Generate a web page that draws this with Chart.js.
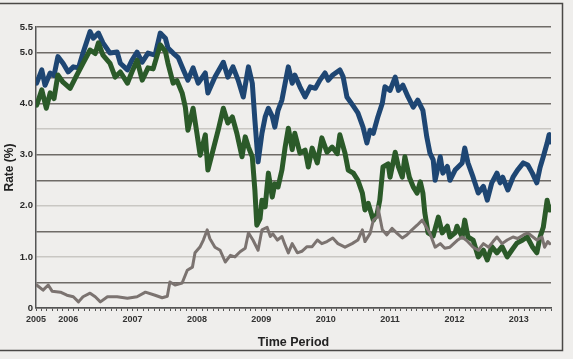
<!DOCTYPE html>
<html>
<head>
<meta charset="utf-8">
<script src="https://cdn.jsdelivr.net/npm/chart.js@4.4.0/dist/chart.umd.min.js"></script>
<style>
  html, body { margin: 0; padding: 0; background: #efeeec; }
  canvas { display: block; }
</style>
</head>
<body>
<canvas id="rates" width="573" height="359"></canvas>
<script>
// Data (x in decimal years, y in %)
const blueDates = [2005.51, 2005.59, 2005.64, 2005.72, 2005.78, 2005.84, 2005.92, 2006.00, 2006.08, 2006.16, 2006.23, 2006.34, 2006.39, 2006.47, 2006.54, 2006.65, 2006.76, 2006.81, 2006.92, 2006.99, 2007.07, 2007.15, 2007.24, 2007.35, 2007.43, 2007.51, 2007.55, 2007.63, 2007.71, 2007.79, 2007.86, 2007.94, 2008.02, 2008.13, 2008.17, 2008.28, 2008.41, 2008.48, 2008.56, 2008.64, 2008.72, 2008.80, 2008.86, 2008.90, 2008.95, 2009.01, 2009.06, 2009.11, 2009.17, 2009.21, 2009.26, 2009.32, 2009.37, 2009.42, 2009.48, 2009.52, 2009.60, 2009.68, 2009.76, 2009.84, 2009.91, 2009.99, 2010.04, 2010.11, 2010.22, 2010.27, 2010.33, 2010.43, 2010.50, 2010.58, 2010.64, 2010.69, 2010.74, 2010.81, 2010.88, 2010.92, 2011.00, 2011.08, 2011.13, 2011.20, 2011.28, 2011.36, 2011.43, 2011.51, 2011.57, 2011.62, 2011.67, 2011.70, 2011.78, 2011.82, 2011.89, 2011.93, 2012.01, 2012.12, 2012.16, 2012.21, 2012.29, 2012.37, 2012.45, 2012.51, 2012.58, 2012.66, 2012.71, 2012.75, 2012.83, 2012.91, 2012.98, 2013.07, 2013.14, 2013.21, 2013.28, 2013.33, 2013.38, 2013.44, 2013.47, 2013.48];
const blueRates = [4.40, 4.66, 4.36, 4.60, 4.55, 4.92, 4.79, 4.62, 4.72, 4.70, 4.99, 5.41, 5.28, 5.38, 5.19, 4.99, 5.01, 4.79, 4.66, 4.85, 5.01, 4.81, 4.99, 4.95, 5.38, 5.28, 5.09, 4.99, 4.90, 4.66, 4.46, 4.70, 4.40, 4.60, 4.21, 4.52, 4.81, 4.52, 4.72, 4.46, 4.13, 4.72, 4.40, 3.68, 2.86, 3.42, 3.74, 3.91, 3.75, 3.54, 3.87, 4.07, 4.40, 4.72, 4.40, 4.56, 4.33, 4.13, 4.33, 4.30, 4.46, 4.60, 4.46, 4.56, 4.66, 4.53, 4.13, 3.95, 3.82, 3.54, 3.23, 3.48, 3.42, 3.74, 4.01, 4.33, 4.26, 4.52, 4.26, 4.36, 4.13, 3.93, 4.07, 3.87, 3.35, 3.03, 2.90, 2.50, 2.96, 2.64, 2.77, 2.50, 2.70, 2.84, 3.13, 2.84, 2.56, 2.25, 2.38, 2.11, 2.45, 2.64, 2.45, 2.56, 2.31, 2.56, 2.70, 2.84, 2.80, 2.64, 2.45, 2.75, 2.96, 3.23, 3.39, 3.25];

const greenDates = [2005.51, 2005.59, 2005.66, 2005.72, 2005.78, 2005.84, 2005.92, 2006.03, 2006.11, 2006.23, 2006.34, 2006.42, 2006.47, 2006.54, 2006.65, 2006.73, 2006.81, 2006.92, 2006.99, 2007.07, 2007.15, 2007.24, 2007.32, 2007.43, 2007.51, 2007.55, 2007.63, 2007.69, 2007.77, 2007.82, 2007.86, 2007.94, 2008.00, 2008.05, 2008.13, 2008.17, 2008.25, 2008.33, 2008.41, 2008.48, 2008.55, 2008.62, 2008.70, 2008.75, 2008.80, 2008.86, 2008.90, 2008.93, 2008.98, 2009.01, 2009.06, 2009.11, 2009.17, 2009.21, 2009.26, 2009.32, 2009.37, 2009.42, 2009.48, 2009.52, 2009.60, 2009.68, 2009.73, 2009.79, 2009.87, 2009.94, 2010.02, 2010.10, 2010.18, 2010.22, 2010.30, 2010.35, 2010.43, 2010.50, 2010.57, 2010.61, 2010.66, 2010.74, 2010.80, 2010.84, 2010.89, 2010.97, 2011.00, 2011.08, 2011.13, 2011.19, 2011.23, 2011.30, 2011.36, 2011.42, 2011.47, 2011.51, 2011.54, 2011.59, 2011.67, 2011.75, 2011.81, 2011.89, 2011.93, 2012.01, 2012.04, 2012.12, 2012.16, 2012.21, 2012.29, 2012.37, 2012.45, 2012.51, 2012.58, 2012.66, 2012.74, 2012.82, 2012.89, 2012.97, 2013.06, 2013.13, 2013.21, 2013.28, 2013.33, 2013.38, 2013.44, 2013.47, 2013.48];
const greenRates = [3.97, 4.27, 3.91, 4.21, 4.10, 4.56, 4.42, 4.30, 4.50, 4.79, 5.05, 4.98, 5.19, 4.95, 4.79, 4.52, 4.62, 4.40, 4.62, 4.85, 4.46, 4.70, 4.68, 5.15, 5.02, 4.79, 4.40, 4.45, 4.21, 3.93, 3.48, 3.91, 3.42, 2.99, 3.39, 2.70, 3.09, 3.48, 3.91, 3.62, 3.74, 3.42, 2.96, 3.35, 3.15, 2.96, 2.31, 1.62, 1.75, 2.11, 1.98, 2.64, 2.17, 2.43, 2.37, 2.70, 3.15, 3.52, 3.10, 3.42, 3.03, 3.09, 2.76, 3.13, 2.84, 3.33, 3.05, 3.15, 3.02, 3.39, 3.03, 2.70, 2.64, 2.50, 2.25, 1.92, 2.05, 1.72, 1.85, 2.11, 2.76, 2.82, 2.56, 3.05, 2.76, 2.56, 2.96, 2.56, 2.37, 2.25, 2.47, 2.25, 1.86, 1.47, 1.41, 1.78, 1.47, 1.60, 1.39, 1.47, 1.60, 1.39, 1.72, 1.39, 1.33, 1.00, 1.13, 0.94, 1.20, 1.08, 1.20, 1.00, 1.13, 1.27, 1.33, 1.39, 1.20, 1.08, 1.39, 1.58, 2.11, 1.92, 1.98];

const greyDates = [2005.51, 2005.61, 2005.69, 2005.75, 2005.88, 2005.98, 2006.08, 2006.16, 2006.23, 2006.34, 2006.42, 2006.50, 2006.61, 2006.76, 2006.92, 2007.07, 2007.20, 2007.35, 2007.46, 2007.54, 2007.58, 2007.66, 2007.77, 2007.85, 2007.93, 2007.97, 2008.05, 2008.10, 2008.16, 2008.20, 2008.28, 2008.36, 2008.44, 2008.52, 2008.59, 2008.67, 2008.75, 2008.80, 2008.87, 2008.95, 2009.01, 2009.09, 2009.14, 2009.18, 2009.25, 2009.32, 2009.37, 2009.42, 2009.48, 2009.56, 2009.63, 2009.71, 2009.79, 2009.87, 2009.94, 2010.02, 2010.11, 2010.19, 2010.30, 2010.41, 2010.50, 2010.57, 2010.61, 2010.69, 2010.74, 2010.80, 2010.81, 2010.88, 2010.95, 2011.03, 2011.11, 2011.19, 2011.26, 2011.34, 2011.42, 2011.50, 2011.56, 2011.62, 2011.70, 2011.78, 2011.85, 2011.93, 2012.04, 2012.12, 2012.19, 2012.29, 2012.37, 2012.45, 2012.53, 2012.60, 2012.66, 2012.74, 2012.82, 2012.91, 2012.98, 2013.07, 2013.14, 2013.22, 2013.28, 2013.36, 2013.40, 2013.45, 2013.48];
const greyRates = [0.45, 0.35, 0.45, 0.33, 0.31, 0.25, 0.22, 0.12, 0.22, 0.29, 0.22, 0.12, 0.22, 0.22, 0.19, 0.22, 0.31, 0.25, 0.20, 0.23, 0.51, 0.45, 0.49, 0.74, 0.80, 1.08, 1.20, 1.33, 1.53, 1.36, 1.19, 1.13, 0.90, 1.03, 1.00, 1.10, 1.17, 1.47, 1.33, 1.13, 1.53, 1.58, 1.40, 1.45, 1.33, 1.40, 1.23, 1.08, 1.26, 1.08, 1.11, 1.20, 1.20, 1.33, 1.26, 1.30, 1.37, 1.26, 1.19, 1.26, 1.33, 1.53, 1.30, 1.46, 1.72, 1.78, 1.98, 1.53, 1.43, 1.56, 1.46, 1.37, 1.43, 1.53, 1.62, 1.72, 1.59, 1.46, 1.19, 1.26, 1.17, 1.19, 1.32, 1.39, 1.32, 1.19, 1.13, 1.26, 1.19, 1.30, 1.39, 1.26, 1.33, 1.39, 1.36, 1.43, 1.47, 1.39, 1.33, 1.39, 1.19, 1.30, 1.26];

const xStart = 2005.5;
const xEnd = 2013.5;
const lightGridValues = [3.5, 2.0, 1.0];

const toPoints = (xs, ys) => xs.map((x, i) => ({ x: x, y: ys[i] }));

// Outer frame around the picture
const framePlugin = {
  id: "frame",
  afterDraw(chart) {
    const c = chart.ctx;
    c.save();
    c.strokeStyle = "#4a4846";
    c.lineWidth = 1.5;
    c.beginPath();
    c.moveTo(0, 3.5);
    c.lineTo(562.5, 3.5);
    c.lineTo(562.5, 350.5);
    c.lineTo(0, 350.5);
    c.stroke();
    c.restore();
  },
};

Chart.defaults.font.family = "'Liberation Sans', Arial, sans-serif";
Chart.defaults.color = "#2a2a2a";

var ctx = document.getElementById("rates");
var chart = new Chart(ctx, {
  type: "line",
  data: {
    datasets: [
      {
        label: "Grey",
        data: toPoints(greyDates, greyRates),
        borderColor: "#7b7370",
        borderWidth: 3,
      },
      {
        label: "Green",
        data: toPoints(greenDates, greenRates),
        borderColor: "#2b5a29",
        borderWidth: 5,
      },
      {
        label: "Blue",
        data: toPoints(blueDates, blueRates),
        borderColor: "#1e4673",
        borderWidth: 5,
      },
    ],
  },
  options: {
    responsive: false,
    animation: false,
    layout: { padding: { left: 0, right: 22, top: 27, bottom: 0 } },
    elements: {
      point: { radius: 0 },
      line: { tension: 0, borderJoinStyle: "round", borderCapStyle: "round" },
    },
    plugins: {
      legend: { display: false },
      tooltip: { enabled: false },
    },
    scales: {
      x: {
        type: "linear",
        min: xStart,
        max: xEnd,
        afterBuildTicks: (axis) => {
          const t = [];
          for (let i = 0; i <= 96; i++) t.push({ value: xStart + i / 12 });
          axis.ticks = t;
        },
        afterFit: (axis) => {
          axis.height = 51;
        },
        ticks: {
          autoSkip: false,
          maxRotation: 0,
          padding: 3,
          font: { size: 9, weight: "bold" },
          color: "#333",
          callback: function (value) {
            if (Math.abs(value - xStart) < 1e-6) return "2005";
            if (Math.abs(value - Math.round(value)) < 1e-6) return String(Math.round(value));
            return "";
          },
        },
        grid: {
          drawOnChartArea: false,
          drawTicks: true,
          tickLength: 3,
          color: "#555",
        },
        border: { color: "#555", width: 1.5 },
        title: {
          display: true,
          text: "Time Period",
          font: { size: 12.5, weight: "bold" },
          color: "#222",
          padding: { top: 0, bottom: 9 },
        },
      },
      y: {
        min: 0,
        max: 5.5,
        afterBuildTicks: (axis) => {
          const t = [];
          for (let i = 0; i <= 11; i++) t.push({ value: i * 0.5 });
          axis.ticks = t;
        },
        afterFit: (axis) => {
          axis.width = 36;
        },
        ticks: {
          autoSkip: false,
          padding: 3,
          font: { size: 9.5, weight: "bold" },
          color: "#2a2a2a",
          callback: function (value) {
            if (value === 0) return "0";
            if (value === 5.5) return "5.5";
            if (Number.isInteger(value)) return value.toFixed(1);
            return "";
          },
        },
        grid: {
          drawTicks: false,
          lineWidth: 1.5,
          color: (c) => {
            const v = c.tick ? c.tick.value : null;
            return lightGridValues.includes(v) ? "#c9c7c3" : "#6f6b67";
          },
        },
        border: { color: "#555", width: 1.5 },
        title: {
          display: true,
          text: "Rate (%)",
          font: { size: 12, weight: "bold" },
          color: "#222",
          padding: { top: 2, bottom: 0 },
        },
      },
    },
  },
  plugins: [framePlugin],
});
</script>
</body>
</html>
